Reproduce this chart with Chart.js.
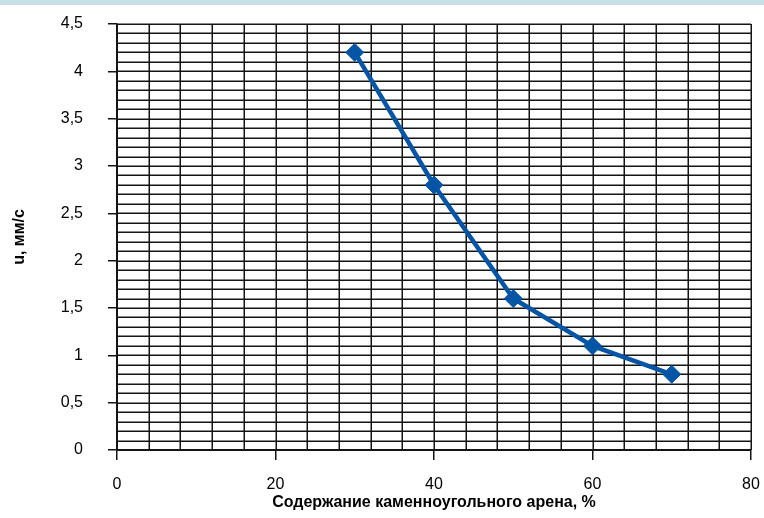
<!DOCTYPE html>
<html>
<head>
<meta charset="utf-8">
<script src="https://cdn.jsdelivr.net/npm/chart.js@4/dist/chart.umd.min.js"></script>
<style>
html,body{margin:0;padding:0;background:#fff;}
#wrap{position:relative;width:764px;height:518px;}
#band{position:absolute;left:0;top:0;width:764px;height:5px;background:#c8e1e7;z-index:2;}
canvas{position:absolute;left:0;top:0;}
</style>
</head>
<body>
<div id="wrap"><div id="band"></div><canvas id="c" width="764" height="518"></canvas></div>
<script>
const xValues = [30, 40, 50, 60, 70];
const yValues = [4.2, 2.8, 1.6, 1.1, 0.8];
const xTitle = 'Содержание каменноугольного арена, %';
const yTitle = 'u, мм/с';
const xRange = [0, 80];
const yRange = [0, 4.5];
const xMajorStep = 20, yMajorStep = 0.5;
const xMinorStep = 4, yMinorStep = 0.1;

const FONT = "'Liberation Sans Narrow', 'Liberation Sans', Arial, sans-serif";
const GRID = '#141414';

const minorGrid = {
  id: 'minorGrid',
  beforeDatasetsDraw(chart) {
    const {ctx, chartArea: a, scales: {x, y}} = chart;
    ctx.save();
    ctx.strokeStyle = GRID;
    ctx.lineWidth = 1.5;
    ctx.beginPath();
    for (let i = 0; i <= Math.round((yRange[1]-yRange[0])/yMinorStep); i++) {
      const py = Math.round(y.getPixelForValue(yRange[0] + i*yMinorStep)) + 0.25;
      ctx.moveTo(a.left, py); ctx.lineTo(a.right, py);
    }
    for (let i = 0; i <= Math.round((xRange[1]-xRange[0])/xMinorStep); i++) {
      const px = Math.round(x.getPixelForValue(xRange[0] + i*xMinorStep)) + 0.25;
      ctx.moveTo(px, a.top); ctx.lineTo(px, a.bottom);
    }
    ctx.stroke();
    ctx.restore();
  }
};

new Chart(document.getElementById('c'), {
  type: 'line',
  data: {
    datasets: [{
      data: xValues.map((v, i) => ({x: v, y: yValues[i]})),
      borderColor: '#0455a5',
      backgroundColor: '#0455a5',
      borderWidth: 4.5,
      pointStyle: 'rectRot',
      pointRadius: 9,
      pointBorderWidth: 1,
      tension: 0
    }]
  },
  options: {
    responsive: false,
    animation: false,
    events: [],
    layout: {padding: {top: 24, right: 13, left: 0, bottom: 0}},
    plugins: {legend: {display: false}, tooltip: {enabled: false}},
    scales: {
      x: {
        type: 'linear',
        min: xRange[0], max: xRange[1],
        afterFit: s => { s.height = 68; s.paddingLeft = 0; s.paddingRight = 0; },
        ticks: {stepSize: xMajorStep, color: '#000', padding: 15, font: {family: FONT, size: 16}},
        grid: {drawOnChartArea: false, color: GRID, lineWidth: 1.5, tickLength: 10},
        border: {color: GRID, width: 1.5},
        title: {display: true, text: xTitle, color: '#000', font: {family: FONT, size: 16, weight: 'bold'}, padding: {top: 0, bottom: 6}}
      },
      y: {
        min: yRange[0], max: yRange[1],
        afterFit: s => { s.width = 117; s.paddingTop = 0; s.paddingBottom = 0; },
        ticks: {stepSize: yMajorStep, color: '#000', padding: 25, font: {family: FONT, size: 16},
          callback: v => String(Math.round(v*10)/10).replace('.', ',')},
        grid: {drawOnChartArea: false, color: GRID, lineWidth: 1.5, tickLength: 9},
        border: {color: GRID, width: 1.5},
        title: {display: true, text: yTitle, color: '#000', font: {family: FONT, size: 16, weight: 'bold'}, padding: {top: 10, bottom: 0}}
      }
    }
  },
  plugins: [minorGrid]
});
</script>
</body>
</html>
